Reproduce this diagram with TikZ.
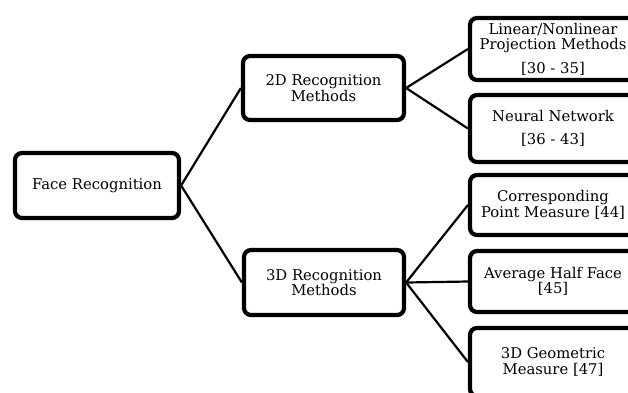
\documentclass[tikz,border=0pt]{standalone}
\usepackage{fontspec}
\setmainfont{DejaVu Serif}
\usetikzlibrary{shadows}
\tikzset{
  box/.style={draw=black, line width=4.2pt, rounded corners=7pt, fill=white,
    align=center, inner sep=0pt, font=\fontsize{14.8}{15.5}\selectfont,
    drop shadow={opacity=0.25, shadow xshift=1.5pt, shadow yshift=-2pt}},
  link/.style={draw=black, line width=2.2pt}
}
\begin{document}
\begin{tikzpicture}[x=1pt,y=-1pt]
\useasboundingbox (0,0) rectangle (628,392);
\clip (0,0) rectangle (628,392);
\node[box, minimum width=164pt, minimum height=65pt] (fr) at (97,185.5) {Face Recognition};
\node[box, minimum width=161pt, minimum height=64pt] (d2) at (323.5,88) {2D Recognition\\Methods};
\node[box, minimum width=160pt, minimum height=65pt] (d3) at (324,282.5) {3D Recognition\\Methods};
\node[box, minimum width=166pt, minimum height=62pt] (lin) at (553,49) {Linear/Nonlinear\\Projection Methods\\[8pt]{}[30 - 35]};
\node[box, minimum width=166pt, minimum height=67pt] (nn) at (553,128.5) {Neural Network\\[7pt]{}[36 - 43]};
\node[box, minimum width=166pt, minimum height=60pt] (cp) at (553,205) {Corresponding\\Point Measure [44]};
\node[box, minimum width=166pt, minimum height=61pt] (ahf) at (553,281.5) {Average Half Face\\{}[45]};
\node[box, minimum width=166pt, minimum height=68pt] (geo) at (553,362) {3D Geometric\\Measure [47]};
\draw[link] (fr.east) -- (d2.west);
\draw[link] (fr.east) -- (d3.west);
\draw[link] (d2.east) -- (lin.west);
\draw[link] (d2.east) -- (nn.west);
\draw[link] (d3.east) -- (cp.west);
\draw[link] (d3.east) -- (ahf.west);
\draw[link] (d3.east) -- (geo.west);
\end{tikzpicture}
\end{document}
